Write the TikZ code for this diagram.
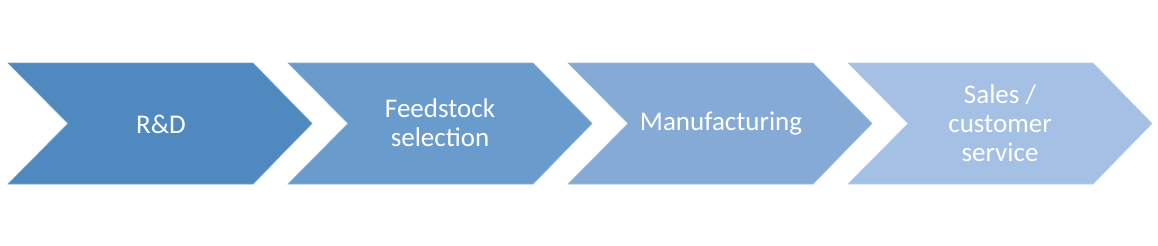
\documentclass[tikz,border=0pt]{standalone}
\usepackage{fontspec}
\setmainfont{Carlito}
\definecolor{c1}{HTML}{4F89C0}
\definecolor{c2}{HTML}{6A9BCD}
\definecolor{c3}{HTML}{86AAD6}
\definecolor{c4}{HTML}{A4C0E4}
\begin{document}
\begin{tikzpicture}[x=1pt,y=-1pt,
  lbl/.style={text=white,font=\fontsize{27}{29}\selectfont,align=center,inner sep=0pt}]
\useasboundingbox (0,0) rectangle (1158,246);
\foreach \i/\c in {0/c1,1/c2,2/c3,3/c4}{
  \pgfmathsetmacro{\xo}{8+280*\i}
  \fill[\c,draw=\c!80!white,line width=0.6pt]
    (\xo,63) -- (\xo+245,63) -- (\xo+304,123.5) -- (\xo+245,184) -- (\xo,184) -- (\xo+60,123.5) -- cycle;
}
\node[lbl] (rd) at (161,124) {R\&D};
\node[lbl] (fs) at (440,123) {Feedstock\\selection};
\node[lbl] (mf) at (721,124) {Manufacturing};
\node[lbl] (ss) at (1000,123) {Sales /\\customer\\service};
\end{tikzpicture}
\end{document}
